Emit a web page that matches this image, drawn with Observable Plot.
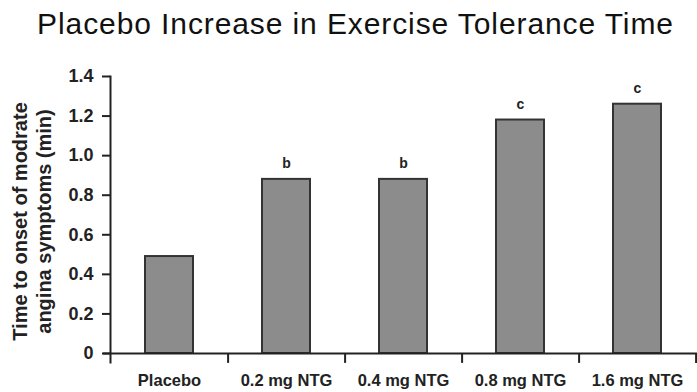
<!DOCTYPE html>
<html>
<head>
<meta charset="utf-8">
<script src="https://cdn.jsdelivr.net/npm/d3@7"></script>
<script src="https://cdn.jsdelivr.net/npm/@observablehq/plot@0.6"></script>
<style>
  html, body { margin: 0; padding: 0; background: #fff; }
  #wrap { width: 697px; height: 392px; overflow: hidden; font-family: "Liberation Sans", Arial, sans-serif; }
  #title { box-sizing: border-box; height: 50px; padding-top: 9px; padding-left: 14px; font-size: 30px; letter-spacing: 0.9px; line-height: 30px; text-align: center; color: #111; white-space: nowrap; }
</style>
</head>
<body>
<div id="wrap">
  <div id="title">Placebo Increase in Exercise Tolerance Time</div>
  <div id="chart"></div>
</div>
<script>
const categories = ["Placebo", "0.2 mg NTG", "0.4 mg NTG", "0.8 mg NTG", "1.6 mg NTG"];
const values = [0.49, 0.88, 0.88, 1.18, 1.26];
const sigLabels = ["", "b", "b", "c", "c"];
const yTicks = [0, 0.2, 0.4, 0.6, 0.8, 1.0, 1.2, 1.4];
const yTitle = "Time to onset of modrate\nangina symptoms (min)";

const data = categories.map((c, i) => ({cat: c, value: values[i], sig: sigLabels[i]}));

const W = 697, H = 342;
const mL = 110, mR = 1, mT = 26, mB = 39;
const step = (W - mL - mR) / categories.length;
const ink = "#222";

const chart = Plot.plot({
  width: W,
  height: H,
  marginLeft: mL,
  marginRight: mR,
  marginTop: mT,
  marginBottom: mB,
  style: {fontFamily: "'Liberation Sans', Arial, sans-serif", background: "#fff", color: ink, overflow: "visible"},
  x: {domain: categories, paddingInner: 0.59, paddingOuter: 0.295},
  y: {domain: [0, 1.4]},
  marks: [
    Plot.barY(data, {x: "cat", y: "value", fill: "#8c8c8c", stroke: "#333", strokeWidth: 2}),
    Plot.text(data, {x: "cat", y: "value", text: "sig", lineAnchor: "bottom", dy: -11, fontSize: 14, fontWeight: "bold", fill: ink}),
    Plot.axisY({ticks: yTicks, tickFormat: d => d === 0 ? "0" : d.toFixed(1), tickSize: 8, tickPadding: 9, fontSize: 18, fontWeight: "bold", strokeWidth: 2, label: null}),
    Plot.frame({anchor: "left", stroke: ink, strokeWidth: 2, insetBottom: -9}),
    Plot.ruleY([0], {stroke: ink, strokeWidth: 2, insetLeft: -7, insetRight: -1}),
    Plot.ruleX(categories, {x: d => d, y1: 0, y2: -0.05, dx: step / 2, stroke: ink, strokeWidth: 2}),
    Plot.axisX({tickSize: 0, tickPadding: 21, fontSize: 16.5, fontWeight: "bold", label: null}),
    Plot.text([yTitle], {frameAnchor: "left", textAnchor: "middle", text: d => d, rotate: -90, dx: -79, dy: 6.5, fontSize: 20, fontWeight: "bold", lineHeight: 1.2, fill: ink})
  ]
});
document.getElementById("chart").appendChild(chart);
</script>
</body>
</html>
